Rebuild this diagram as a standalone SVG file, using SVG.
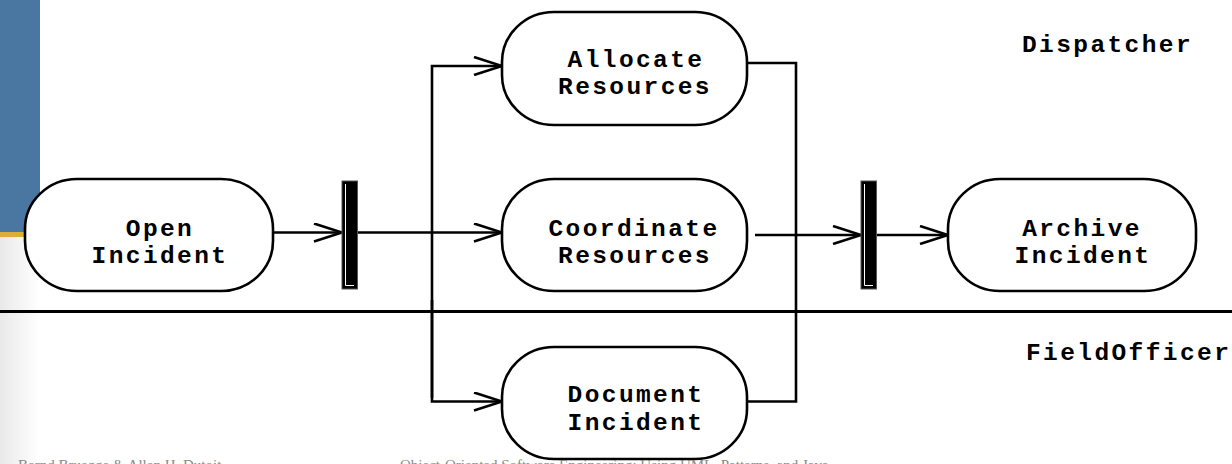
<svg xmlns="http://www.w3.org/2000/svg" width="1232" height="464" viewBox="0 0 1232 464">
  <defs>
    <linearGradient id="edgeShade" x1="0" y1="0" x2="1" y2="0">
      <stop offset="0" stop-color="#e9e9e9"/>
      <stop offset="1" stop-color="#ffffff"/>
    </linearGradient>
    <marker id="open" viewBox="0 0 30 20" refX="29" refY="10" markerWidth="30" markerHeight="20" markerUnits="userSpaceOnUse" orient="auto">
      <path d="M1,1 L29,10 L1,19" fill="none" stroke="#000" stroke-width="2.6"/>
    </marker>
    <style>
      .act { fill: #fff; stroke: #000; stroke-width: 2.6; }
      .lbl { font-family: "Liberation Mono", "Courier New", monospace; font-weight: bold; font-size: 24.5px; letter-spacing: 2.4px; fill: #000; text-anchor: middle; }
      .lane { font-family: "Liberation Mono", "Courier New", monospace; font-weight: bold; font-size: 24.5px; letter-spacing: 2.4px; fill: #000; }
      .flow { fill: none; stroke: #000; stroke-width: 2.6; }
      .bar { fill: #000; stroke: #555; stroke-width: 1; }
      .barEdge { fill: none; stroke: #fff; stroke-width: 1; }
      .foot { font-family: "Liberation Serif", "Times New Roman", serif; font-size: 15px; fill: #8a8a8a; }
    </style>
  </defs>

  <rect width="1232" height="464" fill="#fff"/>
  <!-- slide frame -->
  <rect x="0" y="237" width="40" height="227" fill="url(#edgeShade)"/>
  <rect x="0" y="0" width="40" height="232" fill="#4a77a2"/>
  <rect x="0" y="232" width="40" height="5" fill="#dcad38"/>

  <!-- swimlane divider -->
  <line x1="0" y1="311.5" x2="1232" y2="311.5" stroke="#000" stroke-width="3.2"/>
  <text class="lane" x="1022" y="52">Dispatcher</text>
  <text class="lane" x="1026" y="360">FieldOfficer</text>

  <!-- connectors -->
  <g id="connectors">
    <line class="flow" x1="273" y1="232.5" x2="342" y2="232.5" marker-end="url(#open)"/>
    <line class="flow" x1="358" y1="232.5" x2="502" y2="232.5" marker-end="url(#open)"/>
    <polyline class="flow" points="432,398 432,66 502,66" marker-end="url(#open)"/>
    <polyline class="flow" points="432,300 432,401.5 502,401.5" marker-end="url(#open)"/>
    <polyline class="flow" points="747,63 796,63 796,401.5 747,401.5"/>
    <line class="flow" x1="755" y1="235" x2="861" y2="235" marker-end="url(#open)"/>
    <line class="flow" x1="877" y1="235" x2="948" y2="235" marker-end="url(#open)"/>
  </g>

  <!-- synchronization bars -->
  <g id="fork">
    <rect class="bar" x="342" y="181" width="15.5" height="108"/>
    <polyline class="barEdge" points="345.5,184 345.5,285.5 354,285.5"/>
  </g>
  <g id="join">
    <rect class="bar" x="861" y="181" width="15.5" height="108"/>
    <polyline class="barEdge" points="864.5,184 864.5,285.5 873,285.5"/>
  </g>

  <!-- activities -->
  <g id="open-incident">
    <rect class="act" x="25" y="179" width="248" height="112" rx="52" ry="50"/>
    <text class="lbl" x="160" y="236">Open</text>
    <text class="lbl" x="160" y="263">Incident</text>
  </g>
  <g id="allocate-resources">
    <rect class="act" x="502" y="12" width="245" height="113" rx="52" ry="50"/>
    <text class="lbl" x="636" y="67">Allocate</text>
    <text class="lbl" x="635" y="94">Resources</text>
  </g>
  <g id="coordinate-resources">
    <rect class="act" x="502" y="179" width="245" height="112" rx="52" ry="50"/>
    <text class="lbl" x="634" y="236">Coordinate</text>
    <text class="lbl" x="635" y="263">Resources</text>
  </g>
  <g id="document-incident">
    <rect class="act" x="502" y="347" width="245" height="112" rx="52" ry="50"/>
    <text class="lbl" x="636" y="402">Document</text>
    <text class="lbl" x="636" y="430">Incident</text>
  </g>
  <g id="archive-incident">
    <rect class="act" x="948" y="179" width="248" height="112" rx="52" ry="50"/>
    <text class="lbl" x="1082" y="236">Archive</text>
    <text class="lbl" x="1083" y="263">Incident</text>
  </g>

  <!-- footer -->
  <text class="foot" x="18" y="470">Bernd Bruegge &amp; Allen H. Dutoit</text>
  <text class="foot" x="400" y="470">Object-Oriented Software Engineering: Using UML, Patterns, and Java</text>
</svg>
